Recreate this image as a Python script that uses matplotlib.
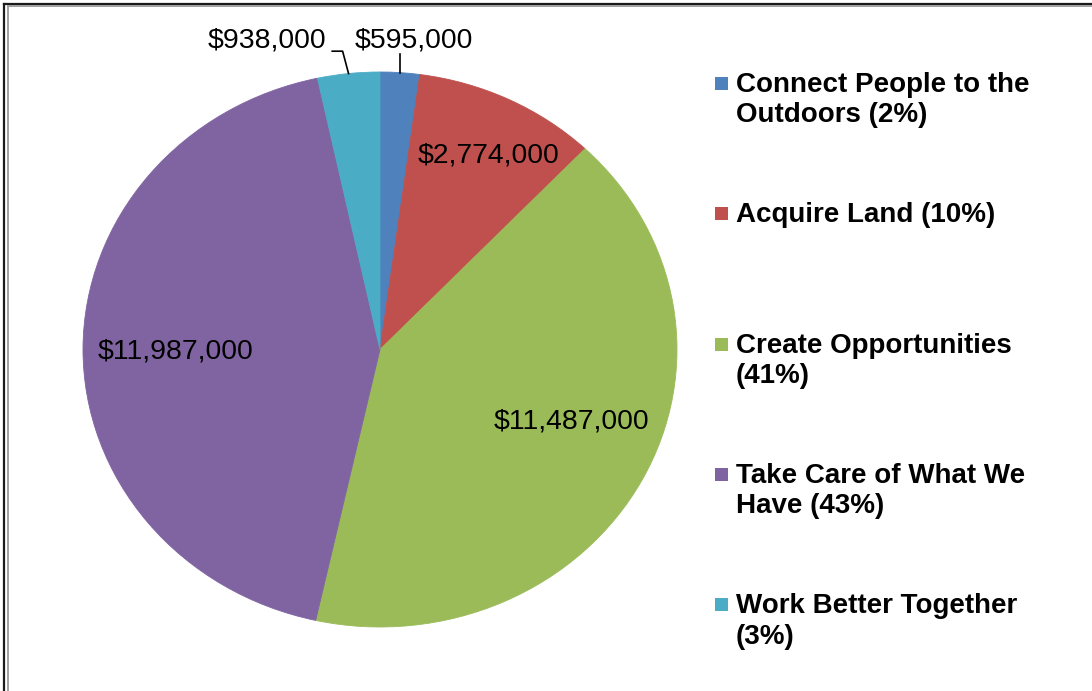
import numpy as np
import matplotlib
matplotlib.use("Agg")
import matplotlib.pyplot as plt
from matplotlib.lines import Line2D
from matplotlib.patches import Rectangle

# Budget by goal
goals = [
    "Connect People to the\nOutdoors",
    "Acquire Land",
    "Create Opportunities\n",
    "Take Care of What We\nHave",
    "Work Better Together\n",
]
amounts = [595000, 2774000, 11487000, 11987000, 938000]
colours = ["#4F81BD", "#C0504D", "#9BBB59", "#8064A2", "#4BACC6"]

W, H = 1092, 691
fig = plt.figure(figsize=(W / 100, H / 100), dpi=100)
fig.patch.set_facecolor("white")

# pie axes sized to the (slightly stretched) ellipse of the original
px_left, px_right, px_top, px_bottom = 83, 677, 72, 627
ax = fig.add_axes([px_left / W, 1 - px_bottom / H,
                   (px_right - px_left) / W, (px_bottom - px_top) / H])

wedges, _ = ax.pie(amounts, colors=colours, startangle=90, counterclock=False,
                   wedgeprops=dict(linewidth=0.6, antialiased=True))
for w in wedges:
    w.set_edgecolor(w.get_facecolor())
ax.set_aspect("auto")
ax.set_xlim(-1, 1)
ax.set_ylim(-1, 1)
ax.axis("off")

total = sum(amounts)
labels = ["${:,}".format(a) for a in amounts]
fracs = np.array(amounts) / total
ends = 90 - 360 * np.cumsum(fracs)
starts = ends + 360 * fracs
mids = (starts + ends) / 2

lab_font = dict(family="Liberation Sans", fontsize=20.4, color="black")

# inside labels, Excel "best fit": (distance, angle nudge in degrees)
inside = {1: (0.80, -1.5), 2: (0.69, 7.0), 3: (0.69, 0.0)}
for i, (r, nudge) in inside.items():
    a = np.radians(mids[i] + nudge)
    ax.text(r * np.cos(a), r * np.sin(a), labels[i],
            ha="center", va="center_baseline", **lab_font)

# outside labels with leader lines
# blue slice
a = np.radians(mids[0])
x0, y0 = np.cos(a), np.sin(a)
ax.plot([x0, x0], [y0, 1.065], color="black", lw=1.2, clip_on=False)
ax.text(0.114, 1.09, labels[0], ha="center", va="baseline", **lab_font)
# cyan slice
a = np.radians(mids[4])
x0, y0 = np.cos(a), np.sin(a)
ax.plot([x0, x0 - 0.02, x0 - 0.055], [y0, 1.075, 1.075], color="black", lw=1.2,
        clip_on=False)
ax.text(-0.38, 1.09, labels[4], ha="center", va="baseline", **lab_font)

# legend drawn by hand to keep Excel's even spacing
pcts = np.round(fracs * 100).astype(int)
base0, step, line_gap = 92, 130.3, 30.5
for i, (g, c, p) in enumerate(zip(goals, colours, pcts)):
    lines = g.split("\n")
    if lines[-1] == "":
        lines[-1] = "({}%)".format(p)
    else:
        lines[-1] = lines[-1] + " ({}%)".format(p)
    base = base0 + i * step
    fig.add_artist(Rectangle((715 / W, 1 - (base - 2) / H), 13 / W, 13 / H,
                             transform=fig.transFigure, facecolor=c,
                             edgecolor="none"))
    for k, ln in enumerate(lines):
        fig.text(736 / W, 1 - (base + k * line_gap) / H, ln, ha="left",
                 va="baseline", fontsize=20, fontweight="bold",
                 family="Liberation Sans", color="black")

# window frame
fig.add_artist(Line2D([3.5 / W, 1], [1 - 3.5 / H, 1 - 3.5 / H],
                      transform=fig.transFigure, color="#1a1a1a", lw=1.6))
fig.add_artist(Line2D([3.5 / W, 3.5 / W], [0, 1 - 3.5 / H],
                      transform=fig.transFigure, color="#1a1a1a", lw=1.6))
fig.add_artist(Line2D([7.5 / W, 1], [1 - 6 / H, 1 - 6 / H],
                      transform=fig.transFigure, color="#a0a0a0", lw=1.4))
fig.add_artist(Line2D([7.5 / W, 7.5 / W], [0, 1 - 6 / H],
                      transform=fig.transFigure, color="#a0a0a0", lw=1.4))

fig.savefig("out.png", dpi=100)
